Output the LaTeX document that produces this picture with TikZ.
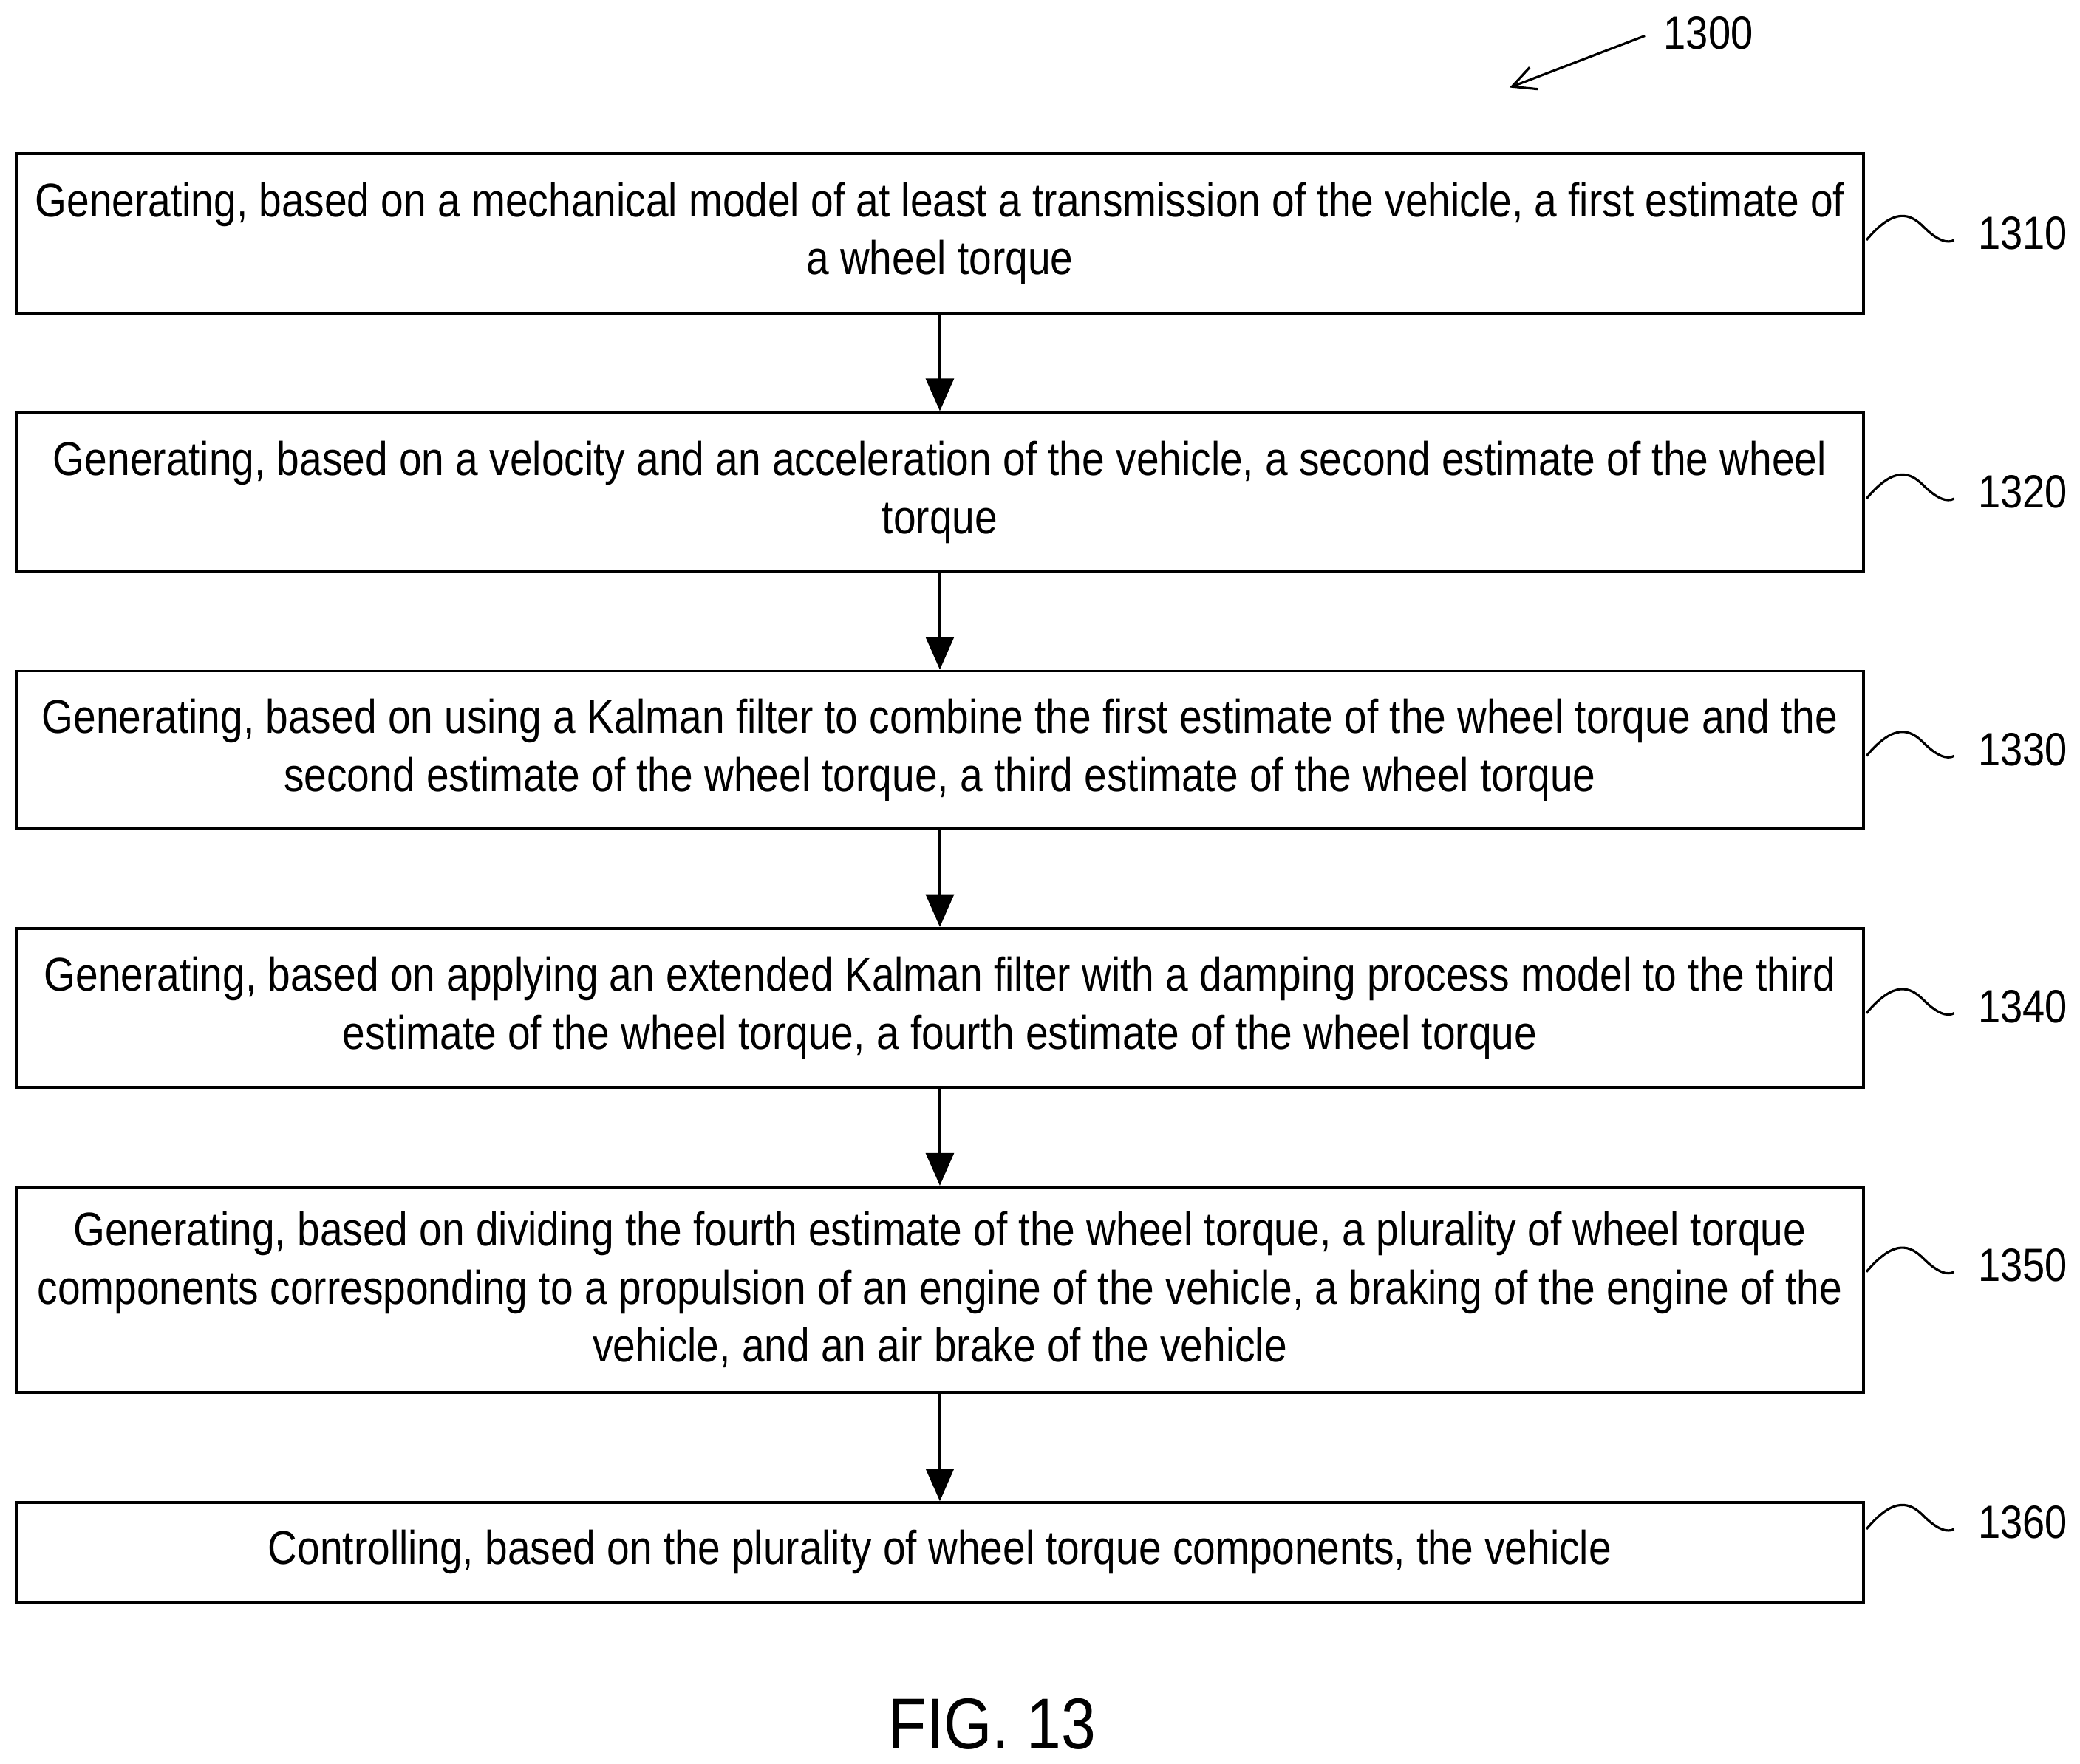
\documentclass[tikz,border=0pt]{standalone}
\usepackage{fontspec}
\setmainfont{Liberation Sans}[FakeStretch=0.86]
\usetikzlibrary{arrows.meta}
\begin{document}
\begin{tikzpicture}[x=0.02cm,y=-0.02cm,
  box/.style={draw,line width=1.2pt,minimum width=27.86cm,align=center,font=\fontsize{20.3}{25}\selectfont,inner sep=0pt},
  arr/.style={-{Triangle[length=14pt,width=12pt]},line width=1.2pt},
  lab/.style={font=\fontsize{20}{22}\selectfont,anchor=west},
  sq/.style={line width=1pt}]
\useasboundingbox (0,0) rectangle (1568,1330);
\node[box,minimum height=2.4cm] (b1) at (708.5,176) {Generating, based on a mechanical model of at least a transmission of the vehicle, a first estimate of\\a wheel torque};
\node[box,minimum height=2.4cm] (b2) at (708.5,371) {Generating, based on a velocity and an acceleration of the vehicle, a second estimate of the wheel\\torque};
\node[box,minimum height=2.38cm] (b3) at (708.5,565.5) {Generating, based on using a Kalman filter to combine the first estimate of the wheel torque and the\\second estimate of the wheel torque, a third estimate of the wheel torque};
\node[box,minimum height=2.4cm] (b4) at (708.5,760) {Generating, based on applying an extended Kalman filter with a damping process model to the third\\estimate of the wheel torque, a fourth estimate of the wheel torque};
\node[box,minimum height=3.1cm] (b5) at (708.5,972.5) {Generating, based on dividing the fourth estimate of the wheel torque, a plurality of wheel torque\\components corresponding to a propulsion of an engine of the vehicle, a braking of the engine of the\\vehicle, and an air brake of the vehicle};
\node[box,minimum height=1.5cm] (b6) at (708.5,1170.5) {Controlling, based on the plurality of wheel torque components, the vehicle};
\foreach \a/\b in {b1/b2,b2/b3,b3/b4,b4/b5,b5/b6} \draw[arr] (\a.south) -- (\b.north);
\foreach \n/\y/\t in {b1/176/1310,b2/371/1320,b3/565/1330,b4/759/1340,b5/954/1350,b6/1148/1360}{
  \coordinate (s\t) at (1407,\y+5);
  \draw[sq] (s\t) .. controls (1428,\y-20) and (1440,\y-15) .. (1450,\y-5) .. controls (1460,\y+5) and (1468,\y+8) .. (1473,\y+5);
  \node[lab] (l\t) at (1485,\y) {\t};
}
\node[lab] (l1300) at (1248,25) {1300};
\coordinate (a1300) at (1138,66);
\draw[-{Straight Barb[length=10pt,width=10pt]},line width=1pt] (l1300.west) ++(-8,2) -- (a1300);
\node[font=\fontsize{31}{34}\selectfont] (fig) at (748,1300) {FIG. 13};
\end{tikzpicture}
\end{document}
